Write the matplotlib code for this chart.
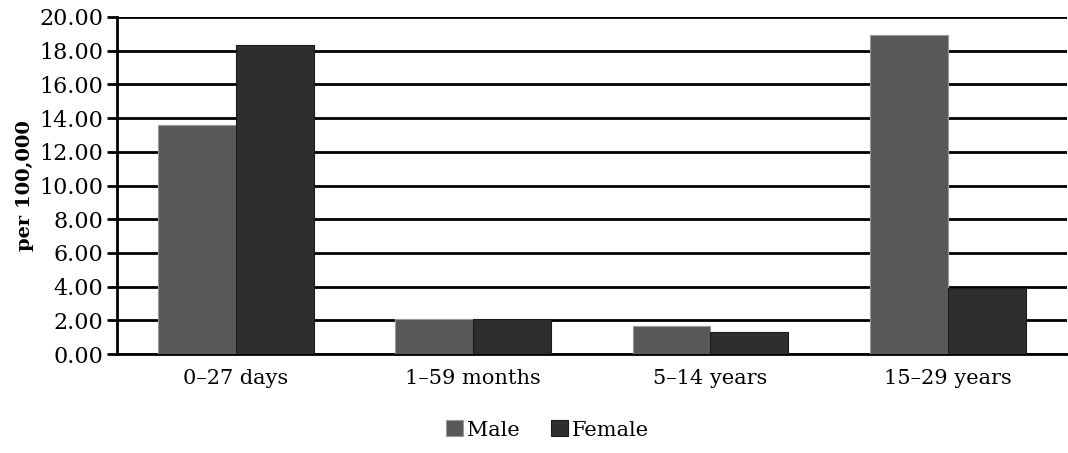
import numpy as np
import matplotlib
matplotlib.use("Agg")
import matplotlib.pyplot as plt

categories = ["0\u201327 days", "1\u201359 months", "5\u201314 years", "15\u201329 years"]
male = [13.6, 2.05, 1.68, 18.95]
female = [18.35, 2.05, 1.3, 3.92]
yticks = [0, 2, 4, 6, 8, 10, 12, 14, 16, 18, 20]

plt.rcParams['font.family'] = ['DejaVu Serif']

fig = plt.figure(figsize=(10.68, 4.53), dpi=100)
ax = fig.add_axes([0.1096, 0.2185, 0.889, 0.744])

x = np.arange(len(categories))
w = 0.328
ax.bar(x - w/2, male, w, color="#585858", edgecolor="#9a9a9a", linewidth=0.8, label="Male", zorder=3)
ax.bar(x + w/2, female, w, color="#2e2e2e", edgecolor="#1a1a1a", linewidth=0.8, label="Female", zorder=3)

ax.set_xlim(-0.5, len(categories) - 0.5)
ax.set_ylim(0, 20)
ax.set_yticks(yticks)
ax.set_yticklabels(["%.2f" % v for v in yticks], fontsize=16)
ax.set_xticks(x)
ax.set_xticklabels(categories, fontsize=15)
ax.tick_params(axis="x", length=0, pad=11)
ax.tick_params(axis="y", length=7, width=2, direction="out", pad=3)
ax.yaxis.grid(True, color="black", linewidth=2, zorder=0)
ax.set_axisbelow(True)
for s in ["top", "right"]:
    ax.spines[s].set_visible(False)
ax.spines["left"].set_linewidth(2)
ax.spines["bottom"].set_linewidth(2)
ax.set_ylabel("per 100,000", fontsize=14, fontweight="bold", labelpad=4)

fig.legend(loc="lower center", ncol=2, frameon=False, fontsize=15,
           bbox_to_anchor=(0.513, -0.012), handlelength=0.8, handleheight=0.8,
           handletextpad=0.2, columnspacing=1.5)

fig.savefig("out.png", dpi=100)
